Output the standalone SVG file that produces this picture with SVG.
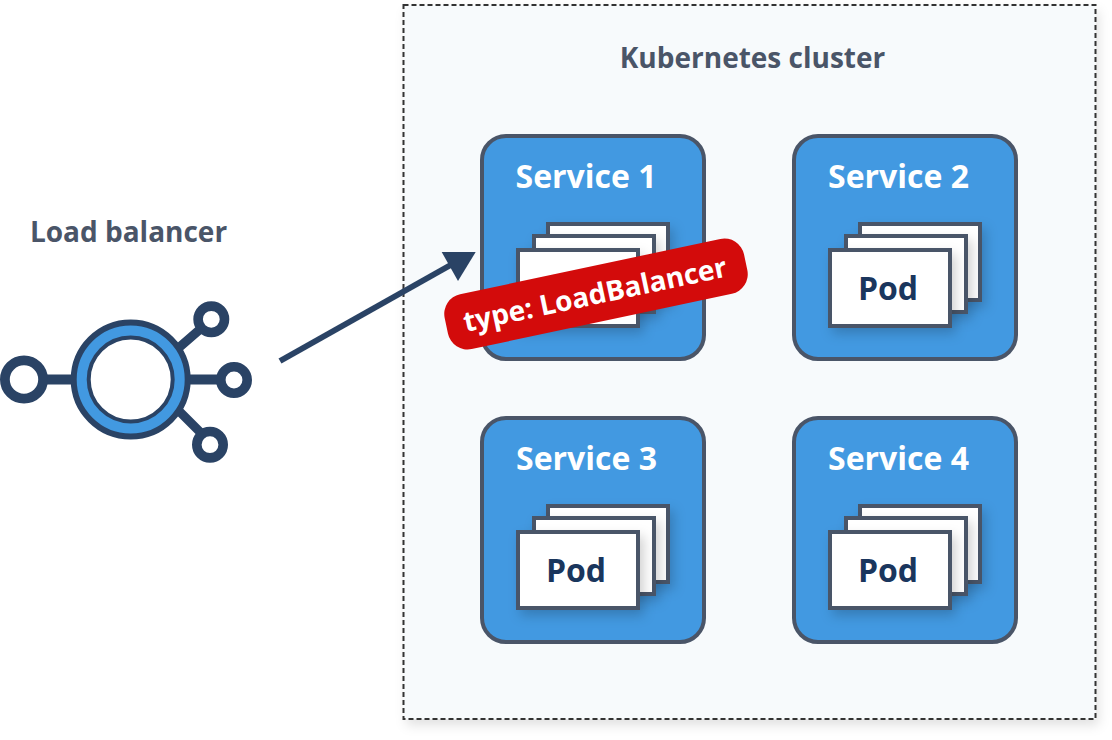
<svg xmlns="http://www.w3.org/2000/svg" width="1112" height="740" viewBox="0 0 1112 740">
<style>
text{font-family:"Open Sans","Noto Sans","Liberation Sans",sans-serif;font-weight:700}
.h{font-size:28px;fill:#4a5568;text-anchor:middle}
.svc{fill:#4299e1;stroke:#4a5568;stroke-width:4}
.pod{fill:#fff;stroke:#4a5568;stroke-width:4;filter:url(#s)}
.st{font-size:32px;fill:#fff;text-anchor:middle}
.pt{font-size:32px;fill:#1a365d;text-anchor:middle}
.d{fill:none;stroke:#2a4365}
</style>
<defs>
<filter id="s" x="-30%" y="-30%" width="170%" height="170%"><feDropShadow dx="4" dy="6" stdDeviation="6" flood-color="#000" flood-opacity=".18"/></filter>
<filter id="c" x="-5%" y="-5%" width="110%" height="110%"><feDropShadow dx="3" dy="6" stdDeviation="6" flood-color="#000" flood-opacity=".12"/></filter>
<symbol id="pods" overflow="visible">
<rect class="pod" x="66" y="88" width="120" height="76"/>
<rect class="pod" x="52" y="100" width="120" height="76"/>
<rect class="pod" x="36" y="114" width="120" height="76"/>
</symbol>
</defs>
<g id="cluster">
<rect x="403.500" y="5" width="692" height="714" fill="#f7fafc" filter="url(#c)"/>
<rect x="403.500" y="5" width="692" height="714" fill="none" stroke="#333" stroke-width="2" stroke-dasharray="5 3"/>
<text class="h" x="752.500" y="68">Kubernetes cluster</text>
</g>
<g id="load-balancer">
<text class="h" x="128.500" y="242">Load balancer</text>
<g class="d">
<path stroke-width="10" d="M42 379.500H72M186 379.500H222"/>
<path stroke-width="9" d="M175 351L205 325M172 404L208 440"/>
<circle cx="24" cy="379.500" r="19.100" fill="#fff" stroke-width="9.800"/>
<circle cx="234" cy="380" r="13.200" fill="#fff" stroke-width="9.600"/>
<circle cx="211.300" cy="319.300" r="13.200" fill="#fff" stroke-width="9.600"/>
<circle cx="210" cy="444.700" r="13.200" fill="#fff" stroke-width="9.600"/>
<circle cx="130.700" cy="379.500" r="57" style="fill:#4299e1" stroke-width="6"/>
<circle cx="130.700" cy="379.500" r="42" fill="#fff" stroke-width="4"/>
</g>
</g>
<g id="service-1">
<rect class="svc" x="482" y="136" width="222" height="223" rx="24"/>
<text class="st" x="586" y="188">Service 1</text>
<use href="#pods" x="482" y="136"/>
<text class="pt" x="576" y="300">Pod</text>
</g>
<g id="service-2">
<rect class="svc" x="794" y="136" width="222" height="223" rx="24"/>
<text class="st" x="898.500" y="188">Service 2</text>
<use href="#pods" x="794" y="136"/>
<text class="pt" x="888" y="300">Pod</text>
</g>
<g id="service-3">
<rect class="svc" x="482" y="418" width="222" height="224" rx="24"/>
<text class="st" x="586.500" y="470">Service 3</text>
<use href="#pods" x="482" y="418"/>
<text class="pt" x="576" y="582">Pod</text>
</g>
<g id="service-4">
<rect class="svc" x="794" y="418" width="222" height="224" rx="24"/>
<text class="st" x="898.500" y="470">Service 4</text>
<use href="#pods" x="794" y="418"/>
<text class="pt" x="888" y="582">Pod</text>
</g>
<g id="connectors">
<path d="M280 361L456 262" fill="none" stroke="#2a4365" stroke-width="6"/>
<path d="M475.700 252H441.700L458 281Z" fill="#2a4365"/>
</g>
<g id="badge" transform="rotate(-12 596 294)">
<rect x="443" y="266" width="306" height="56" rx="20" fill="#d30b0b"/>
<text x="595" y="304" font-size="28" fill="#fff" text-anchor="middle">type: LoadBalancer</text>
</g>
</svg>
